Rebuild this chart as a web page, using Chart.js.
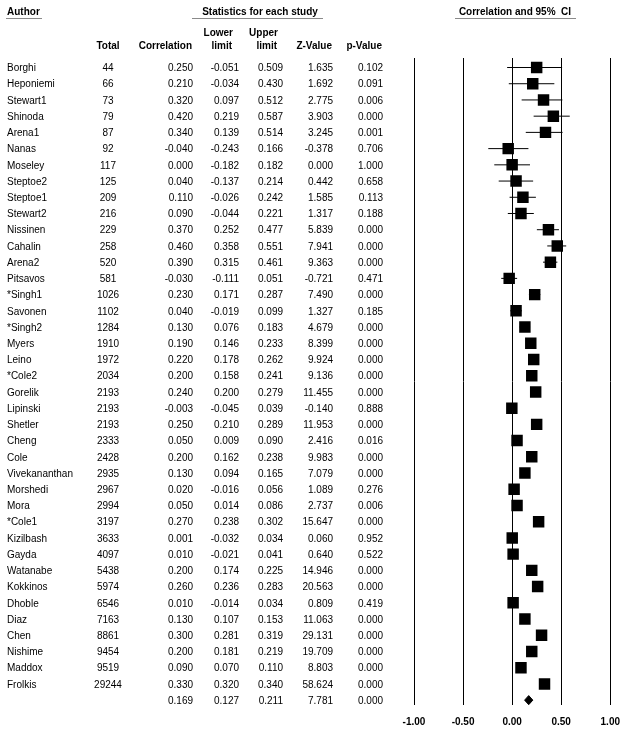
<!DOCTYPE html>
<html>
<head>
<meta charset="utf-8">
<script src="https://cdn.jsdelivr.net/npm/chart.js@4.4.0/dist/chart.umd.min.js"></script>
<style>
  html, body { margin: 0; padding: 0; background: #ffffff; }
  #wrap { width: 631px; height: 733px; position: relative; }
</style>
</head>
<body>
<div id="wrap"><canvas id="c" width="631" height="733"></canvas></div>
<script>
// ---------- DATA ----------
const authors = ["Borghi","Heponiemi","Stewart1","Shinoda","Arena1","Nanas","Moseley","Steptoe2","Steptoe1","Stewart2",
  "Nissinen","Cahalin","Arena2","Pitsavos","*Singh1","Savonen","*Singh2","Myers","Leino","*Cole2",
  "Gorelik","Lipinski","Shetler","Cheng","Cole","Vivekananthan","Morshedi","Mora","*Cole1","Kizilbash",
  "Gayda","Watanabe","Kokkinos","Dhoble","Diaz","Chen","Nishime","Maddox","Frolkis"];
const totals = [44,66,73,79,87,92,117,125,209,216,
  229,258,520,581,1026,1102,1284,1910,1972,2034,
  2193,2193,2193,2333,2428,2935,2967,2994,3197,3633,
  4097,5438,5974,6546,7163,8861,9454,9519,29244];
const correlation = [0.250,0.210,0.320,0.420,0.340,-0.040,0.000,0.040,0.110,0.090,
  0.370,0.460,0.390,-0.030,0.230,0.040,0.130,0.190,0.220,0.200,
  0.240,-0.003,0.250,0.050,0.200,0.130,0.020,0.050,0.270,0.001,
  0.010,0.200,0.260,0.010,0.130,0.300,0.200,0.090,0.330];
const lowerLimit = [-0.051,-0.034,0.097,0.219,0.139,-0.243,-0.182,-0.137,-0.026,-0.044,
  0.252,0.358,0.315,-0.111,0.171,-0.019,0.076,0.146,0.178,0.158,
  0.200,-0.045,0.210,0.009,0.162,0.094,-0.016,0.014,0.238,-0.032,
  -0.021,0.174,0.236,-0.014,0.107,0.281,0.181,0.070,0.320];
const upperLimit = [0.509,0.430,0.512,0.587,0.514,0.166,0.182,0.214,0.242,0.221,
  0.477,0.551,0.461,0.051,0.287,0.099,0.183,0.233,0.262,0.241,
  0.279,0.039,0.289,0.090,0.238,0.165,0.056,0.086,0.302,0.034,
  0.041,0.225,0.283,0.034,0.153,0.319,0.219,0.110,0.340];
const zValue = [1.635,1.692,2.775,3.903,3.245,-0.378,0.000,0.442,1.585,1.317,
  5.839,7.941,9.363,-0.721,7.490,1.327,4.679,8.399,9.924,9.136,
  11.455,-0.140,11.953,2.416,9.983,7.079,1.089,2.737,15.647,0.060,
  0.640,14.946,20.563,0.809,11.063,29.131,19.709,8.803,58.624];
const pValue = [0.102,0.091,0.006,0.000,0.001,0.706,1.000,0.658,0.113,0.188,
  0.000,0.000,0.000,0.471,0.000,0.185,0.000,0.000,0.000,0.000,
  0.000,0.888,0.000,0.016,0.000,0.000,0.276,0.006,0.000,0.952,
  0.522,0.000,0.000,0.419,0.000,0.000,0.000,0.000,0.000];
// summary: correlation, lower, upper, z, p
const summaryStats = [0.169, 0.127, 0.211, 7.781, 0.000];
const xTickValues = [-1.00, -0.50, 0.00, 0.50, 1.00];

// ---------- LAYOUT ----------
const FONT = '"Liberation Sans", Arial, Helvetica, sans-serif';
const nRows = authors.length;          // 39 studies
const summaryRow = nRows;              // row index 39
const diamondHalf = 0.28;

const squareData = correlation.map((v, i) => ({ x: v, y: i }));
const ciData = [];
lowerLimit.forEach((lo, i) => {
  ciData.push({ x: lo, y: i }, { x: upperLimit[i], y: i }, { x: null, y: null });
});
const diamondData = [
  { x: summaryStats[1], y: summaryRow },
  { x: summaryStats[0], y: summaryRow - diamondHalf },
  { x: summaryStats[2], y: summaryRow },
  { x: summaryStats[0], y: summaryRow + diamondHalf },
  { x: summaryStats[1], y: summaryRow }
];

const tablePlugin = {
  id: 'tablePlugin',
  afterDraw(chart) {
    const ctx = chart.ctx;
    const ys = chart.scales.y;
    ctx.save();
    ctx.fillStyle = '#000';
    ctx.textBaseline = 'middle';

    // Top headers
    ctx.font = 'bold 10px ' + FONT;
    ctx.textAlign = 'left';
    ctx.fillText('Author', 7, 12);
    ctx.textAlign = 'center';
    ctx.fillText('Statistics for each study', 260, 12);
    ctx.fillText('Correlation and 95%  CI', 515, 12);

    ctx.strokeStyle = '#8a8a8a';
    ctx.lineWidth = 1;
    ctx.beginPath();
    ctx.moveTo(6, 18.5); ctx.lineTo(42, 18.5);
    ctx.moveTo(192, 18.5); ctx.lineTo(323, 18.5);
    ctx.moveTo(455, 18.5); ctx.lineTo(576, 18.5);
    ctx.stroke();

    // Column headers
    ctx.textAlign = 'center';
    ctx.fillText('Total', 108, 46);
    ctx.textAlign = 'right';
    ctx.fillText('Correlation', 192, 46);
    ctx.fillText('Lower', 233, 33);
    ctx.fillText('limit', 232, 46);
    ctx.fillText('Upper', 278, 33);
    ctx.fillText('limit', 277, 46);
    ctx.fillText('Z-Value', 332, 46);
    ctx.fillText('p-Value', 382, 46);

    // Rows
    ctx.font = '10px ' + FONT;
    const cols = [193, 239, 283, 333, 383];
    for (let i = 0; i < nRows; i++) {
      const y = ys.getPixelForValue(i) + 1;
      ctx.textAlign = 'left';
      ctx.fillText(authors[i], 7, y);
      ctx.textAlign = 'center';
      ctx.fillText(String(totals[i]), 108, y);
      ctx.textAlign = 'right';
      const vals = [correlation[i], lowerLimit[i], upperLimit[i], zValue[i], pValue[i]];
      vals.forEach((v, k) => ctx.fillText(v.toFixed(3), cols[k], y));
    }
    const ySum = ys.getPixelForValue(summaryRow) + 1;
    ctx.textAlign = 'right';
    summaryStats.forEach((v, k) => ctx.fillText(v.toFixed(3), cols[k], ySum));
    ctx.restore();
  }
};

new Chart(document.getElementById('c'), {
  type: 'scatter',
  data: {
    datasets: [
      {
        label: 'Correlation',
        data: squareData,
        pointStyle: 'rect',
        pointRadius: 8.1,
        pointHoverRadius: 8.1,
        backgroundColor: '#000',
        borderColor: '#000',
        borderWidth: 0
      },
      {
        label: '95% CI',
        data: ciData,
        showLine: true,
        spanGaps: false,
        pointRadius: 0,
        borderColor: '#000',
        borderWidth: 1,
        tension: 0
      },
      {
        label: 'Summary',
        data: diamondData,
        showLine: true,
        fill: 'shape',
        pointRadius: 0,
        borderColor: '#000',
        backgroundColor: '#000',
        borderWidth: 1,
        tension: 0
      }
    ]
  },
  options: {
    responsive: false,
    devicePixelRatio: 1,
    animation: false,
    events: [],
    layout: { padding: { left: 414, right: 18, top: 58, bottom: 0 } },
    plugins: { legend: { display: false }, tooltip: { enabled: false } },
    scales: {
      x: {
        type: 'linear',
        min: -1,
        max: 1,
        afterBuildTicks: (s) => { s.ticks = xTickValues.map(v => ({ value: v })); },
        afterFit: (s) => { s.height = 28; },
        border: { display: false },
        grid: { color: '#000', lineWidth: 1, drawTicks: false },
        ticks: {
          padding: 11,
          color: '#000',
          font: { family: FONT, size: 10, weight: 'bold' },
          maxRotation: 0,
          callback: (v) => Number(v).toFixed(2)
        }
      },
      y: {
        type: 'linear',
        display: false,
        reverse: true,
        min: -0.586,
        max: 39.30
      }
    }
  },
  plugins: [tablePlugin]
});
</script>
</body>
</html>
